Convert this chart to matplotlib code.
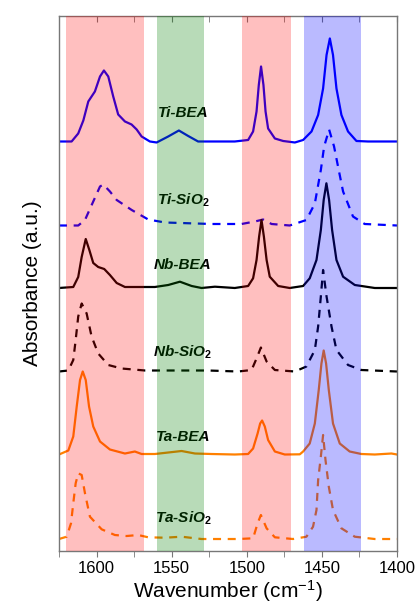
import numpy as np
import matplotlib
matplotlib.use("Agg")
import matplotlib.pyplot as plt

plt.rcParams['font.family'] = ['Liberation Sans', 'DejaVu Sans']
plt.rcParams['mathtext.fontset'] = 'custom'
plt.rcParams['mathtext.rm'] = 'Liberation Sans'
plt.rcParams['mathtext.it'] = 'Liberation Sans:italic'
plt.rcParams['mathtext.bf'] = 'Liberation Sans:bold'

#------------------------------------------------------------------------------
# Pyridine-IR spectra (absorbance above own baseline, a.u.)

wn_ti_bea = [1625, 1616.6, 1612.2, 1608.8, 1605.5, 1601.1, 1597.7, 1595.1, 1592.2,
             1588.9, 1585.6, 1581.1, 1576.7, 1573.3, 1570.0, 1564.5, 1560.0, 1552.3,
             1545.2, 1539.0, 1532.4, 1521.2, 1508.0, 1499.1, 1495.8, 1493.5, 1492.0,
             1490.5, 1488.9, 1487.5, 1485.8, 1481.3, 1475.8, 1468.0, 1462.5, 1456.9,
             1452.5, 1449.2, 1446.9, 1444.7, 1442.6, 1440.3, 1437.0, 1432.6, 1427.0,
             1419.3, 1400]
a_ti_bea = [0, 0, 0.08, 0.21, 0.40, 0.50, 0.65, 0.71, 0.65,
            0.45, 0.27, 0.20, 0.17, 0.12, 0.05, 0, -0.01, 0.05,
            0.11, 0.055, 0, 0, 0, 0.015, 0.10, 0.30, 0.565,
            0.75, 0.565, 0.30, 0.13, 0.03, 0.005, -0.01, 0.015, 0.10,
            0.265, 0.53, 0.865, 1.03, 0.865, 0.53, 0.265, 0.10, 0.005,
            0, 0]

wn_ti_sio2 = [1625, 1612.2, 1607.7, 1602.2, 1597.7, 1595.5, 1591.1, 1586.6, 1576.6,
              1565.6, 1554.5, 1523.4, 1503.5, 1494.6, 1489.1, 1483.5, 1471.4, 1460.3,
              1454.7, 1450.7, 1448.5, 1445.2, 1441.9, 1438.8, 1435.9, 1429.3, 1421.5,
              1400]
a_ti_sio2 = [0, 0, 0.055, 0.24, 0.39, 0.41, 0.34, 0.255, 0.155,
             0.06, 0.03, 0.015, 0.015, 0.04, 0.06, 0.015, 0, 0.055,
             0.22, 0.555, 0.79, 0.96, 0.79, 0.555, 0.34, 0.09, 0.015,
             0]

wn_nb_bea = [1625, 1615.5, 1612.2, 1609.9, 1607.2, 1604.8, 1602.2, 1598.9, 1594.9,
             1591.1, 1586.6, 1581.1, 1561.2, 1552.3, 1544.5, 1536.7, 1530.1, 1521.2,
             1508.0, 1499.1, 1495.8, 1493.5, 1491.8, 1490.2, 1488.6, 1486.8, 1484.7,
             1479.1, 1471.4, 1462.5, 1458.1, 1453.6, 1450.7, 1448.8, 1447.0, 1445.2,
             1443.2, 1440.3, 1435.9, 1428.1, 1414.8, 1400]
a_nb_bea = [0, 0.01, 0.11, 0.31, 0.49, 0.38, 0.25, 0.21, 0.19,
            0.13, 0.05, 0.01, 0.01, 0.03, 0.063, 0.02, 0, 0.013,
            0, 0.02, 0.097, 0.28, 0.513, 0.68, 0.513, 0.28, 0.113,
            0.02, 0, 0.02, 0.097, 0.28, 0.58, 0.88, 1.047, 0.88,
            0.58, 0.28, 0.113, 0.03, 0, 0]

wn_nb_sio2 = [1625, 1618.8, 1615.5, 1613.9, 1612.2, 1609.9, 1606.6, 1603.3, 1598.9,
              1592.2, 1583.3, 1567.8, 1525.7, 1505.7, 1496.8, 1493.5, 1490.6, 1486.8,
              1481.3, 1468.0, 1460.3, 1454.7, 1452.5, 1450.7, 1449.2, 1446.9, 1443.6,
              1440.3, 1432.6, 1423.7, 1400]
a_nb_sio2 = [0, 0.01, 0.115, 0.315, 0.55, 0.68, 0.58, 0.35, 0.18,
             0.065, 0.03, 0.01, 0.01, 0, 0.015, 0.13, 0.24, 0.10,
             0.015, 0, 0.05, 0.215, 0.45, 0.75, 1.015, 0.75, 0.45,
             0.215, 0.065, 0.015, 0]

wn_ta_bea = [1625, 1618.8, 1615.5, 1613.2, 1611.0, 1609.2, 1607.2, 1605.0, 1602.2,
             1597.7, 1591.1, 1581.1, 1574.5, 1570.0, 1561.2, 1552.3, 1543.4, 1534.5,
             1523.4, 1508.0, 1499.1, 1495.8, 1492.8, 1491.1, 1489.8, 1488.0, 1485.8,
             1481.3, 1474.7, 1464.7, 1462.5, 1458.1, 1454.7, 1452.1, 1450.3, 1448.8,
             1447.2, 1445.4, 1442.6, 1438.1, 1431.5, 1423.7, 1414.8, 1403.7, 1400]
a_ta_bea = [0, 0.04, 0.18, 0.48, 0.745, 0.83, 0.745, 0.48, 0.28,
            0.13, 0.05, 0.01, 0.03, 0.005, 0.005, 0.02, 0.035, 0.01,
            0.005, 0, 0.005, 0.06, 0.21, 0.31, 0.34, 0.28, 0.145,
            0.03, 0, 0.002, 0.03, 0.11, 0.31, 0.645, 0.91, 1.04,
            0.91, 0.645, 0.31, 0.11, 0.03, 0.005, 0, 0.01, 0]

wn_ta_sio2 = [1625, 1619.9, 1617.0, 1615.5, 1613.9, 1612.2, 1609.9, 1607.7, 1604.4,
              1596.6, 1587.8, 1580.0, 1572.3, 1565.6, 1554.5, 1543.4, 1530.1, 1523.4,
              1505.7, 1495.8, 1492.8, 1490.6, 1486.8, 1481.3, 1469.2, 1460.3, 1455.9,
              1453.6, 1452.5, 1450.7, 1449.2, 1447.6, 1445.4, 1442.6, 1437.0, 1428.1,
              1414.8, 1400]
a_ta_sio2 = [0, 0.023, 0.157, 0.357, 0.557, 0.657, 0.64, 0.457, 0.223,
             0.097, 0.04, 0.03, 0.04, 0.017, 0.013, 0.023, 0, 0,
             0, 0.007, 0.157, 0.24, 0.107, 0.017, 0, 0.023, 0.123,
             0.29, 0.59, 0.823, 1.04, 0.79, 0.523, 0.29, 0.107, 0.023,
             0, 0]

names = ["Ti-BEA", "Ti-SiO$_\\mathbf{2}$", "Nb-BEA", "Nb-SiO$_\\mathbf{2}$",
         "Ta-BEA", "Ta-SiO$_\\mathbf{2}$"]
spectra = [(wn_ti_bea, a_ti_bea), (wn_ti_sio2, a_ti_sio2), (wn_nb_bea, a_nb_bea),
           (wn_nb_sio2, a_nb_sio2), (wn_ta_bea, a_ta_bea), (wn_ta_sio2, a_ta_sio2)]

# stacking offsets and label heights
offsets = [4.095, 3.255, 2.63, 1.795, 0.965, 0.12]
label_y = [4.38, 3.51, 2.86, 1.99, 1.14, 0.33]
label_x = 1542.5

colors = ["#0000ff", "#0000ff", "#000000", "#000000", "#ff8000", "#ff8000"]
styles = ["-", "--", "-", "--", "-", "--"]

# band regions (cm-1): Lewis / Bronsted / L+B / Lewis
bands = [(1620.5, 1568.5, "red", 0.25),
         (1559.7, 1528.6, "green", 0.28),
         (1503.5, 1470.7, "red", 0.25),
         (1461.9, 1424.2, "blue", 0.27)]

#------------------------------------------------------------------------------

fig = plt.figure(figsize=(4.19, 6.10), dpi=100)
ax = fig.add_axes([0.1408, 0.0967, 0.8067, 0.8771])

for i in range(len(spectra)):
    wn, a = spectra[i]
    y = np.array(a) + offsets[i]
    if styles[i] == "--":
        ax.plot(wn, y, color=colors[i], lw=1.6, ls="--", dashes=(3.6, 3.0),
                solid_joinstyle="round", zorder=2)
    else:
        ax.plot(wn, y, color=colors[i], lw=1.6, solid_joinstyle="round", zorder=2)
    ax.text(label_x, label_y[i], names[i], ha="center", va="center",
            fontsize=11, fontweight="bold", fontstyle="italic", zorder=2)

# translucent bands drawn over the traces
for lo, hi, c, al in bands:
    ax.axvspan(hi, lo, color=c, alpha=al, lw=0, zorder=3)

ax.set_xlim(1625, 1400)
ax.set_ylim(0, 5.35)
ax.set_xticks([1600, 1550, 1500, 1450, 1400])
ax.set_xticks(np.arange(1625, 1399, -25), minor=True)
ax.set_yticks([])

for s in ax.spines.values():
    s.set_color("#777777")
    s.set_linewidth(1.0)

ax.tick_params(axis="x", which="both", direction="out", color="#777777",
               labelsize=12, pad=3, length=4)

top = ax.secondary_xaxis("top")
top.set_xticks([1600, 1550, 1500, 1450, 1400])
top.set_xticks(np.arange(1625, 1399, -25), minor=True)
top.tick_params(axis="x", which="both", direction="in", length=4,
                color="#777777", labeltop=False)
top.spines["top"].set_visible(False)

ax.set_xlabel("Wavenumber (cm$^{-1}$)", fontsize=15, labelpad=2)
ax.set_ylabel("Absorbance (a.u.)", fontsize=15, labelpad=12)

plt.savefig("out.png", dpi=100)
